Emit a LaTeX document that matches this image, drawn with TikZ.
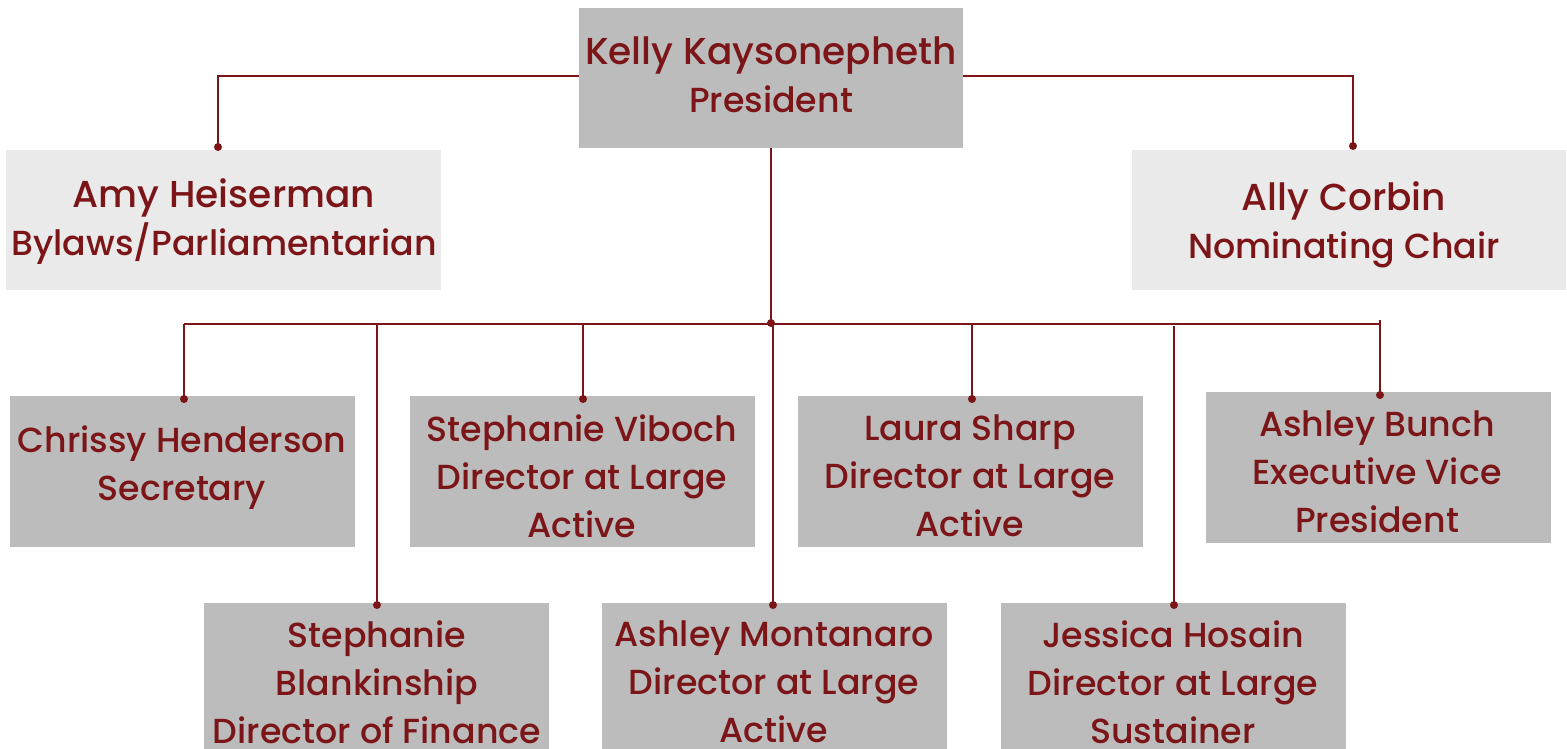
\documentclass[tikz,border=0pt]{standalone}
\usepackage{fontspec}
\setmainfont{Poppins Medium}
\definecolor{lnred}{HTML}{7B1518}
\definecolor{boxgray}{HTML}{BCBCBC}
\definecolor{boxlight}{HTML}{EAEAEA}
\newcommand{\bigname}[1]{{\fontsize{37.5}{48}\selectfont #1}}
\begin{document}
\begin{tikzpicture}[x=1pt,y=-1pt,
  box/.style={fill=boxgray, draw=none, inner sep=0pt},
  lightbox/.style={fill=boxlight, draw=none, inner sep=0pt},
  txt/.style={text=lnred, align=center, font=\fontsize{34.8}{48}\selectfont, inner sep=0pt},
  conn/.style={draw=lnred, line width=2.2pt},
  dot/.style={circle, fill=lnred, inner sep=0pt, minimum size=8pt}]
\useasboundingbox (0,0) rectangle (1567,748);
% boxes
\node[box, minimum width=384, minimum height=140] (pres) at (771,78) {};
\node[lightbox, minimum width=435, minimum height=140] (amy) at (223.5,220) {};
\node[lightbox, minimum width=434, minimum height=140] (ally) at (1349,220) {};
\node[box, minimum width=345, minimum height=151] (chr) at (182.5,471.5) {};
\node[box, minimum width=345, minimum height=151] (vib) at (582.5,471.5) {};
\node[box, minimum width=345, minimum height=151] (lau) at (970.5,471.5) {};
\node[box, minimum width=345, minimum height=151] (bun) at (1378.5,467.5) {};
\node[box, minimum width=345, minimum height=160] (bla) at (376.5,683) {};
\node[box, minimum width=345, minimum height=160] (mon) at (774.5,683) {};
\node[box, minimum width=345, minimum height=160] (jes) at (1173.5,683) {};
% texts
\node[txt] (prest) at (771,75) {\bigname{Kelly Kaysonepheth}\\President};
\node[txt] (amyt) at (224,222) {\bigname{Amy Heiserman}\\Bylaws/Parliamentarian};
\node[txt] (allyt) at (1344,225) {\bigname{Ally Corbin}\\Nominating Chair};
\node[txt] (chrt) at (182,468) {Chrissy Henderson\\Secretary};
\node[txt] (vibt) at (582,476) {Stephanie Viboch\\Director at Large\\Active};
\node[txt] (laut) at (970,476) {Laura Sharp\\Director at Large\\Active};
\node[txt] (bunt) at (1377,472) {Ashley Bunch\\Executive Vice\\President};
\node[txt] (blat) at (377,682) {Stephanie\\Blankinship\\Director of Finance};
\node[txt] (mont) at (774,682) {Ashley Montanaro\\Director at Large\\Active};
\node[txt] (jest) at (1173,682) {Jessica Hosain\\Director at Large\\Sustainer};
% junction coordinates
\coordinate (hub) at (771,323);
\coordinate (bl) at (184,324);
\coordinate (br) at (1380,324);
% connectors
\draw[conn] (pres.west |- 0,76) -- (218,76) -- (218,147);
\node[dot] (damy) at (218,147) {};
\draw[conn] (pres.east |- 0,76) -- (1353,76) -- (1353,146);
\node[dot] (dally) at (1353,146) {};
\draw[conn] (pres.south) -- (hub);
\node[dot] (dhub) at (hub) {};
\draw[conn] (bl) -- (br);
\draw[conn] (bl) -- (184,399);
\node[dot] (dchr) at (184,399) {};
\draw[conn] (377,324) -- (377,605);
\node[dot] (dbla) at (377,605) {};
\draw[conn] (583,324) -- (583,399);
\node[dot] (dvib) at (583,399) {};
\draw[conn] (773,323) -- (773,605);
\node[dot] (dmon) at (773,605) {};
\draw[conn] (972,324) -- (972,399);
\node[dot] (dlau) at (972,399) {};
\draw[conn] (1174,326) -- (1174,605);
\node[dot] (djes) at (1174,605) {};
\draw[conn] (1380,320) -- (1380,395);
\node[dot] (dbun) at (1380,395) {};
\end{tikzpicture}
\end{document}
